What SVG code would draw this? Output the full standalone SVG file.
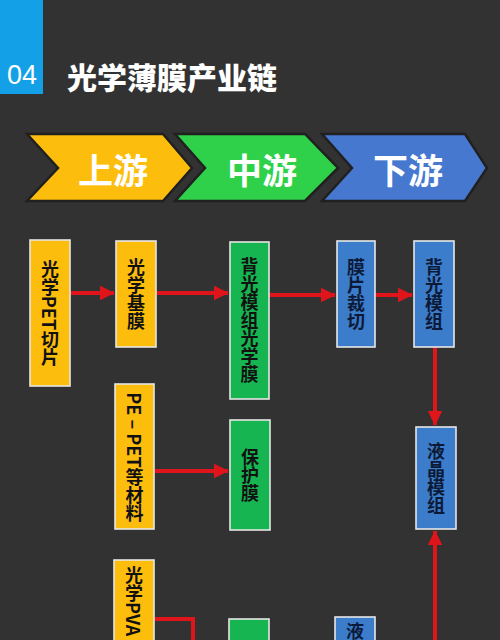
<svg xmlns="http://www.w3.org/2000/svg" width="500" height="640" viewBox="0 0 500 640">
<defs>
<style>
.bg{fill:#333232}
.hdr{fill:#13a0e6}
.ttl{font-family:"Noto Sans CJK SC",sans-serif;font-weight:900;fill:#fff}
.chev{stroke:#202020;stroke-width:2.5;stroke-linejoin:miter}
.ct{font-family:"Noto Sans CJK SC",sans-serif;font-weight:700;font-size:35px;fill:#fff;text-anchor:middle;dominant-baseline:central}
.box{stroke:#e6e6e6;stroke-width:1.6}
.y{fill:#fdbd0c}
.g{fill:#16b551}
.b{fill:#3b7ccb}
.vt{font-family:"Noto Sans CJK SC",sans-serif;font-weight:700;font-size:18px;fill:#111;writing-mode:vertical-rl;text-anchor:middle}
.vb{fill:#0c1a38}
.con{stroke:#e0141b;stroke-width:4;fill:none}
</style>
<marker id="ah" markerWidth="4.5" markerHeight="4.5" refX="3.6" refY="2.25" orient="auto" markerUnits="strokeWidth">
<path d="M0,0.4 L3.8,2.25 L0,4.1 Z" fill="#e0141b"/>
</marker>
</defs>
<rect class="bg" x="0" y="0" width="500" height="640"/>
<g id="header">
<rect class="hdr" x="0" y="0" width="43" height="94"/>
<text x="22" y="75" font-family="Liberation Sans, Arial, sans-serif" font-size="27" fill="#fff" text-anchor="middle" dominant-baseline="central">04</text>
<text class="ttl" x="67" y="76" font-size="30" dominant-baseline="central">光学薄膜产业链</text>
</g>
<g id="stage-upstream">
<polygon class="chev" fill="#fdbd0c" points="27,134 163,134 192,168 163,201 27,201 58,168"/>
<text class="ct" x="113" y="168">上游</text>
</g>
<g id="stage-midstream">
<polygon class="chev" fill="#2fd14a" points="175,134 305,134 338,168 305,201 175,201 205,168"/>
<text class="ct" x="262" y="168">中游</text>
</g>
<g id="stage-downstream">
<polygon class="chev" fill="#4778d0" points="322,134 465,134 487,168 465,201 322,201 352,168"/>
<text class="ct" x="408" y="168">下游</text>
</g>
<g id="connectors">
<line class="con" x1="70" y1="293" x2="114" y2="293" marker-end="url(#ah)"/>
<line class="con" x1="156" y1="293" x2="228" y2="293" marker-end="url(#ah)"/>
<line class="con" x1="269" y1="295" x2="335" y2="295" marker-end="url(#ah)"/>
<line class="con" x1="375" y1="295" x2="412" y2="295" marker-end="url(#ah)"/>
<line class="con" x1="435" y1="347" x2="435" y2="425" marker-end="url(#ah)"/>
<line class="con" x1="154" y1="471" x2="228" y2="471" marker-end="url(#ah)"/>
<line class="con" x1="435" y1="640" x2="435" y2="531" marker-end="url(#ah)"/>
<polyline class="con" points="154,619 193,619 193,640"/>
</g>
<g id="n-pet-chip">
<rect class="box y" x="30" y="240" width="40" height="146"/>
<text class="vt" x="50" y="313">光学PET切片</text>
</g>
<g id="n-base-film">
<rect class="box y" x="116" y="241" width="40" height="106"/>
<text class="vt" x="136" y="294">光学基膜</text>
</g>
<g id="n-backlight-film">
<rect class="box g" x="230" y="242" width="39" height="157"/>
<text class="vt" x="249.5" y="320">背光模组光学膜</text>
</g>
<g id="n-cutting">
<rect class="box b" x="337" y="241" width="38" height="106"/>
<text class="vt vb" x="356" y="294">膜片裁切</text>
</g>
<g id="n-backlight">
<rect class="box b" x="414" y="241" width="40" height="106"/>
<text class="vt vb" x="434" y="294">背光模组</text>
</g>
<g id="n-pe-pet">
<rect class="box y" x="115" y="384" width="39" height="145"/>
<text class="vt" x="134.5" y="457">PE – PET等材料</text>
</g>
<g id="n-protect">
<rect class="box g" x="230" y="420" width="40" height="110"/>
<text class="vt" x="250" y="475">保护膜</text>
</g>
<g id="n-lcm">
<rect class="box b" x="416" y="427" width="40" height="102"/>
<text class="vt vb" x="436" y="478">液晶模组</text>
</g>
<g id="n-pva">
<rect class="box y" x="114" y="560" width="40" height="100"/>
<text class="vt" x="134" y="566" style="text-anchor:start">光学PVA</text>
</g>
<g id="n-green-bottom">
<rect class="box g" x="229" y="619" width="40" height="40"/>
</g>
<g id="n-blue-bottom">
<rect class="box b" x="335" y="617" width="40" height="40"/>
<text class="vt vb" x="355" y="622" style="text-anchor:start">液</text>
</g>
</svg>
